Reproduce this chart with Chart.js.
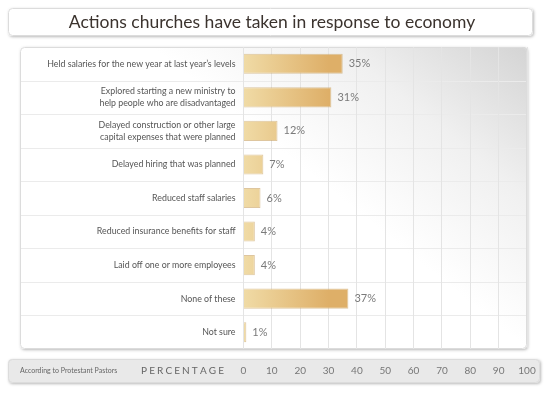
<!DOCTYPE html>
<html>
<head>
<meta charset="utf-8">
<script src="https://cdn.jsdelivr.net/npm/chart.js@4"></script>
<style>
  body { margin: 0; background: #fff; }
  canvas { display: block; }
</style>
</head>
<body>
<canvas id="chart" width="555" height="394"></canvas>
<script>
// Data
const categories = [
    ['Held salaries for the new year at last year\u2019s levels'],
    ['Explored starting a new ministry to', 'help people who are disadvantaged'],
    ['Delayed construction or other large', 'capital expenses that were planned'],
    ['Delayed hiring that was planned'],
    ['Reduced staff salaries'],
    ['Reduced insurance benefits for staff'],
    ['Laid off one or more employees'],
    ['None of these'],
    ['Not sure']
];
const percentages = [35, 31, 12, 7, 6, 4, 4, 37, 1];
const xTicks = [0, 10, 20, 30, 40, 50, 60, 70, 80, 90, 100];

const titleText = 'Actions churches have taken in response to economy';
const sourceText = 'According to Protestant Pastors';
const axisTitle = 'PERCENTAGE';

const FONT = 'Lato, "Open Sans", sans-serif';

function roundRect(ctx, x, y, w, h, r) {
    ctx.beginPath();
    ctx.moveTo(x + r, y);
    ctx.lineTo(x + w - r, y);
    ctx.quadraticCurveTo(x + w, y, x + w, y + r);
    ctx.lineTo(x + w, y + h - r);
    ctx.quadraticCurveTo(x + w, y + h, x + w - r, y + h);
    ctx.lineTo(x + r, y + h);
    ctx.quadraticCurveTo(x, y + h, x, y + h - r);
    ctx.lineTo(x, y + r);
    ctx.quadraticCurveTo(x, y, x + r, y);
    ctx.closePath();
}

function panelBox(ctx, x, y, w, h, fill) {
    ctx.save();
    ctx.shadowColor = 'rgba(0,0,0,0.28)';
    ctx.shadowBlur = 3;
    ctx.shadowOffsetX = 1;
    ctx.shadowOffsetY = 1;
    roundRect(ctx, x, y, w, h, 4);
    ctx.fillStyle = fill;
    ctx.fill();
    ctx.restore();
    ctx.save();
    roundRect(ctx, x + 0.5, y + 0.5, w - 1, h - 1, 4);
    ctx.strokeStyle = '#dcdcdc';
    ctx.lineWidth = 1;
    ctx.stroke();
    ctx.restore();
}

// Boxes, title and row lines behind the chart
const backdrop = {
    id: 'backdrop',
    beforeDraw(chart) {
        const ctx = chart.ctx;
        const area = chart.chartArea;
        const y = chart.scales.y;

        // title box
        panelBox(ctx, 8, 8, 525, 28, '#ffffff');
        ctx.save();
        ctx.fillStyle = '#3b332e';
        ctx.font = '17.5px ' + FONT;
        ctx.textAlign = 'center';
        ctx.textBaseline = 'middle';
        ctx.fillText(titleText, 272, 22);
        ctx.restore();

        // main panel
        const px = 20, py = area.top, pw = area.right - 20, ph = area.bottom - area.top;
        const shade = ctx.createLinearGradient(380, 230, area.right, area.top);
        shade.addColorStop(0, '#ffffff');
        shade.addColorStop(0.5, '#f0f0f0');
        shade.addColorStop(1, '#d4d4d4');
        panelBox(ctx, px, py, pw, ph, shade);

        // row separators across the whole panel
        ctx.save();
        ctx.strokeStyle = '#ebebeb';
        ctx.lineWidth = 1;
        for (let i = 0; i < categories.length - 1; i++) {
            const yy = Math.round((y.getPixelForTick(i) + y.getPixelForTick(i + 1)) / 2) + 0.5;
            ctx.beginPath();
            ctx.moveTo(px + 1, yy);
            ctx.lineTo(area.right - 1, yy);
            ctx.stroke();
        }
        ctx.restore();

        // axis bar
        panelBox(ctx, 8, 359, 532, 24, '#e9e9e9');
        ctx.save();
        ctx.fillStyle = '#666';
        ctx.textBaseline = 'middle';
        ctx.font = '7px ' + FONT;
        ctx.fillText(sourceText, 20, 371);
        ctx.font = '10px ' + FONT;
        const letters = axisTitle.split('');
        const total = letters.reduce((s, ch) => s + ctx.measureText(ch).width, 0);
        const gap = (83 - total) / (letters.length - 1);
        let x = 141;
        for (const ch of letters) {
            ctx.fillText(ch, x, 371);
            x += ctx.measureText(ch).width + gap;
        }
        ctx.restore();
    },
    afterDatasetsDraw(chart) {
        const ctx = chart.ctx;
        const meta = chart.getDatasetMeta(0);
        ctx.save();
        ctx.fillStyle = '#7a7a7a';
        ctx.font = '11px ' + FONT;
        ctx.textBaseline = 'middle';
        meta.data.forEach((bar, i) => {
            ctx.fillText(percentages[i] + '%', bar.x + 6, bar.y);
        });
        ctx.restore();
    }
};

const ctx = document.getElementById('chart').getContext('2d');

function barFill(context) {
    const chart = context.chart;
    const area = chart.chartArea;
    if (!area) return '#deb068';
    const x0 = chart.scales.x.getPixelForValue(0);
    const x1 = chart.scales.x.getPixelForValue(30);
    const g = chart.ctx.createLinearGradient(x0, 0, x1, 0);
    g.addColorStop(0, '#f0dba6');
    g.addColorStop(1, '#deaf68');
    return g;
}

new Chart(ctx, {
    type: 'bar',
    data: {
        labels: categories,
        datasets: [{
            label: 'Percentage',
            data: percentages,
            backgroundColor: barFill,
            borderColor: 'rgba(200,160,95,0.6)',
            borderWidth: 1,
            borderSkipped: 'left',
            categoryPercentage: 1,
            barPercentage: 0.6
        }]
    },
    plugins: [backdrop],
    options: {
        indexAxis: 'y',
        responsive: false,
        animation: false,
        layout: {
            padding: { left: 20, right: 28, top: 47, bottom: 0 }
        },
        scales: {
            x: {
                min: 0,
                max: 100,
                afterBuildTicks(scale) {
                    scale.ticks = xTicks.map(v => ({ value: v }));
                },
                grid: {
                    color: '#e4e4e4',
                    drawTicks: false
                },
                border: { display: false },
                ticks: {
                    padding: 16,
                    color: '#777',
                    font: { family: FONT, size: 10 }
                },
                afterFit(scale) { scale.height = 45; }
            },
            y: {
                grid: { display: false, drawTicks: false },
                border: { display: false },
                ticks: {
                    padding: 8,
                    color: '#555',
                    font: { family: FONT, size: 8.8, lineHeight: 1.35 }
                },
                afterFit(scale) { scale.width = 223.5; }
            }
        },
        plugins: {
            legend: { display: false },
            tooltip: { enabled: false }
        }
    }
});
</script>
</body>
</html>
